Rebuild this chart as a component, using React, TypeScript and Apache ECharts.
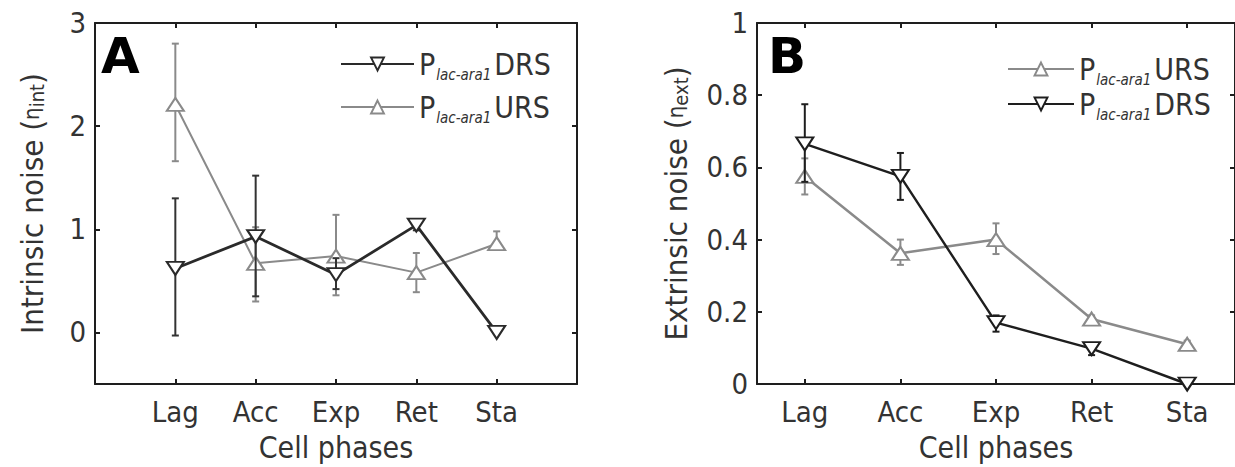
import React, { useEffect, useRef } from "react";
import * as echarts from "echarts";

const categories = ["Lag", "Acc", "Exp", "Ret", "Sta"];

// Panel A – intrinsic noise
const aDrsMean = [0.62, 0.93, 0.56, 1.04, 0.0];
const aDrsLow = [-0.03, 0.35, 0.42, 0.99, 0.0];
const aDrsHigh = [1.3, 1.52, 0.72, 1.09, 0.0];
const aUrsMean = [2.21, 0.67, 0.74, 0.58, 0.86];
const aUrsLow = [1.66, 0.3, 0.36, 0.39, 0.8];
const aUrsHigh = [2.8, 1.02, 1.14, 0.77, 0.98];

// Panel B – extrinsic noise
const bUrsMean = [0.575, 0.362, 0.4, 0.18, 0.11];
const bUrsLow = [0.525, 0.33, 0.36, 0.17, 0.1];
const bUrsHigh = [0.625, 0.4, 0.445, 0.19, 0.12];
const bDrsMean = [0.665, 0.575, 0.17, 0.098, 0.0];
const bDrsLow = [0.56, 0.51, 0.145, 0.08, 0.0];
const bDrsHigh = [0.775, 0.64, 0.19, 0.11, 0.0];

const aYTicks = [0, 1, 2, 3];
const bYTicks = [0, 0.2, 0.4, 0.6, 0.8, 1];

const FONT = '"DejaVu Sans Condensed", "Liberation Sans Narrow", "DejaVu Sans", sans-serif';
const BLACK = "#1e1e1e";
const GREY = "#8a8a8a";
const TXT = "#333";

const xPos = categories.map((_, i) => i + 1);

function pts(mean: number[]) {
  return mean.map((v, i) => [xPos[i], v]);
}
function errs(low: number[], high: number[]) {
  return low.map((l, i) => [xPos[i], l, high[i]]);
}

function errSeries(name: string, xi: number, yi: number, data: number[][], color: string, z: number) {
  return {
    name,
    type: "custom",
    xAxisIndex: xi,
    yAxisIndex: yi,
    z,
    clip: false,
    encode: { x: 0, y: [1, 2] },
    data,
    renderItem: (params: any, api: any) => {
      const x = api.value(0);
      const lo = api.value(1);
      const hi = api.value(2);
      if (lo === hi) return { type: "group", children: [] };
      const p1 = api.coord([x, lo]);
      const p2 = api.coord([x, hi]);
      const w = 3.5;
      const st = { stroke: color, lineWidth: 2 };
      return {
        type: "group",
        children: [
          { type: "line", shape: { x1: p1[0], y1: p1[1], x2: p2[0], y2: p2[1] }, style: st },
          { type: "line", shape: { x1: p1[0] - w, y1: p1[1], x2: p1[0] + w, y2: p1[1] }, style: st },
          { type: "line", shape: { x1: p2[0] - w, y1: p2[1], x2: p2[0] + w, y2: p2[1] }, style: st },
        ],
      };
    },
  };
}

function lineSeries(name: string, xi: number, yi: number, data: number[][], color: string, down: boolean, width: number, z: number) {
  return {
    name,
    type: "line",
    xAxisIndex: xi,
    yAxisIndex: yi,
    z,
    clip: false,
    data,
    symbol: "triangle",
    symbolSize: [17, 13],
    symbolRotate: down ? 180 : 0,
    itemStyle: { color: "#ffffff", borderColor: color, borderWidth: 2 },
    lineStyle: { color, width },
    emphasis: { disabled: true },
  };
}

const labelFmt = (v: number) => {
  const i = Math.round(v) - 1;
  return categories[i] ?? "";
};

const legendRich = {
  p: { fontSize: 30, fontFamily: FONT, color: TXT, lineHeight: 36 },
  s: { fontSize: 15, fontFamily: FONT, fontStyle: "italic", color: TXT, lineHeight: 12, verticalAlign: "bottom", padding: [0, 3, 0, 1] },
  n: { fontSize: 30, fontFamily: FONT, color: TXT, lineHeight: 36 },
};

const legendFmt = (name: string) => {
  const kind = name.endsWith("DRS") ? "DRS" : "URS";
  return `{p|P}{s|lac-ara1}{n|${kind}}`;
};

function axisPair(gridIndex: number, min: number, max: number, ticks: number[], labels: boolean, isX: boolean, fmt?: any, name?: string, nameGap?: number, nameRich?: any) {
  const common: any = {
    type: "value",
    gridIndex,
    min,
    max,
    axisLine: { show: true, onZero: false, lineStyle: { color: BLACK, width: 2 } },
    axisTick: { show: true, inside: true, length: 5, customValues: ticks, lineStyle: { color: BLACK, width: 2 } },
    splitLine: { show: false },
  };
  const main = {
    ...common,
    position: isX ? "bottom" : "left",
    axisLabel: {
      show: labels,
      customValues: ticks,
      formatter: fmt,
      color: TXT,
      fontSize: 29,
      fontFamily: FONT,
      margin: isX ? 13 : 9,
    },
    name,
    nameLocation: "middle",
    nameGap,
    nameRotate: isX ? 0 : 90,
    nameTextStyle: nameRich,
  };
  const opp = {
    ...common,
    position: isX ? "top" : "right",
    axisLabel: { show: false },
  };
  return [main, opp];
}

export default function App() {
  const ref = useRef<HTMLDivElement>(null);
  useEffect(() => {
    if (!ref.current) return;
    const chart = echarts.init(ref.current, undefined, { renderer: "svg" });

    const nameStyle = () => ({
      rich: {
        t: { fontSize: 31, fontFamily: FONT, color: TXT },
        e: { fontSize: 22, fontFamily: FONT, color: TXT },
        s: { fontSize: 20, fontFamily: FONT, color: TXT, verticalAlign: "bottom", lineHeight: 18 },
      },
    });
    const xName = { fontSize: 30, fontFamily: FONT, color: TXT };

    const [axA, axA2] = axisPair(0, 0, 6, xPos, true, true, labelFmt, "Cell phases", 48, xName);
    const [ayA, ayA2] = axisPair(0, -0.5, 3, aYTicks, true, false, (v: number) => String(v), "{t|Intrinsic noise (}{e|η}{s|int}{t|)}", 48, nameStyle());
    const [axB, axB2] = axisPair(1, 0.5, 5.5, xPos, true, true, labelFmt, "Cell phases", 48, xName);
    const [ayB, ayB2] = axisPair(1, 0, 1, bYTicks, true, false, (v: number) => String(v), "{t|Extrinsic noise (}{e|η}{s|ext}{t|)}", 66, nameStyle());

    const option: any = {
      animation: false,
      backgroundColor: "#ffffff",
      grid: [
        { left: 95, top: 23, width: 482, height: 365 },
        { left: 757, top: 23, width: 482, height: 366 },
      ],
      xAxis: [axA, axA2, axB, axB2],
      yAxis: [ayA, ayA2, ayB, ayB2],
      legend: [
        {
          data: ["A-DRS", "A-URS"],
          orient: "vertical",
          left: 335,
          top: 44,
          itemWidth: 73,
          itemHeight: 16,
          itemGap: 10,
          formatter: legendFmt,
          textStyle: { rich: legendRich },
          selectedMode: false,
        },
        {
          data: ["B-URS", "B-DRS"],
          orient: "vertical",
          left: 1002,
          top: 49,
          itemWidth: 66,
          itemHeight: 16,
          itemGap: 2,
          formatter: legendFmt,
          textStyle: { rich: legendRich },
          selectedMode: false,
        },
      ],
      graphic: [
        { type: "text", left: 101, top: 31, style: { text: "A", font: 'bold 50px "DejaVu Sans", sans-serif', fill: "#000" } },
        { type: "text", left: 768, top: 31, style: { text: "B", font: 'bold 50px "DejaVu Sans", sans-serif', fill: "#000" } },
      ],
      series: [
        errSeries("A-URS-err", 0, 0, errs(aUrsLow, aUrsHigh), GREY, 2),
        lineSeries("A-URS", 0, 0, pts(aUrsMean), GREY, false, 2, 3),
        errSeries("A-DRS-err", 0, 0, errs(aDrsLow, aDrsHigh), "#333", 4),
        lineSeries("A-DRS", 0, 0, pts(aDrsMean), "#2a2a2a", true, 2.8, 5),
        errSeries("B-URS-err", 2, 2, errs(bUrsLow, bUrsHigh), GREY, 2),
        lineSeries("B-URS", 2, 2, pts(bUrsMean), GREY, false, 2.5, 3),
        errSeries("B-DRS-err", 2, 2, errs(bDrsLow, bDrsHigh), BLACK, 4),
        lineSeries("B-DRS", 2, 2, pts(bDrsMean), BLACK, true, 2.4, 5),
      ],
    };
    chart.setOption(option);
    return () => chart.dispose();
  }, []);

  return (
    <div
      ref={ref}
      style={{ position: "absolute", left: 0, top: 0, width: 1235, height: 467, background: "#fff" }}
    />
  );
}
